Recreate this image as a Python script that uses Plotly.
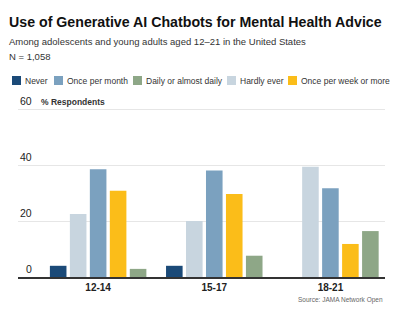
import plotly.graph_objects as go

categories = ["12-14", "15-17", "18-21"]
series_names = ["Never", "Hardly ever", "Once per month", "Once per week or more", "Daily or almost daily"]
never = [4.0, 4.0, None]
hardly_ever = [22.5, 20.0, 39.4]
once_month = [38.5, 38.0, 31.7]
once_week = [30.8, 29.6, 11.8]
daily = [2.9, 7.6, 16.4]
y_ticks = [0, 20, 40, 60]

values = [never, hardly_ever, once_month, once_week, daily]
colors = ["#1b4a78", "#c8d5df", "#7ba1bf", "#fbbd19", "#8ea787"]

# legend layout (order shown in the legend and x position of each swatch, px)
legend_order = ["Never", "Once per month", "Daily or almost daily", "Hardly ever", "Once per week or more"]
legend_x = [12, 54, 133, 227, 288]

W, H = 400, 318
YMAX = 65
PXPU = 2.8  # pixels per y unit
ML, MR, MB = 18, 15, 41
MT = int(round(H - MB - YMAX * PXPU))
PW, PH = W - ML - MR, H - MT - MB


def px(x):
    return (x - ML) / PW


def py(y):
    return (H - MB - y) / PH


fig = go.Figure()
for name, vals, col in zip(series_names, values, colors):
    fig.add_trace(go.Bar(x=categories, y=vals, name=name, marker_color=col,
                         marker_line_width=0, showlegend=False))

font = "Liberation Sans, Arial, sans-serif"
fig.update_layout(
    width=W, height=H,
    margin=dict(l=ML, r=MR, t=MT, b=MB, autoexpand=False),
    paper_bgcolor="white", plot_bgcolor="white",
    barmode="group", bargap=0.14, bargroupgap=0.17,
    font=dict(family=font, color="#222"),
    showlegend=False,
    xaxis=dict(range=[-0.69, 2.47], showline=True, linecolor="#333", linewidth=1.5,
               ticks="", tickfont=dict(size=10, color="#222", weight="bold"), showgrid=False,
               ticklabelstandoff=0),
    yaxis=dict(range=[0, YMAX], tickvals=y_ticks, showgrid=True, gridcolor="#e6e6e6",
               gridwidth=1, zeroline=False, showticklabels=False),
)

# y tick labels sitting above their gridlines
for t in y_ticks:
    fig.add_annotation(text=str(t), xref="paper", yref="y", x=px(34), y=t, yshift=8.5,
                       xanchor="right", yanchor="middle", showarrow=False,
                       font=dict(size=10.5, color="#222"))

# custom compact legend
for name, lx in zip(legend_order, legend_x):
    col = colors[series_names.index(name)]
    fig.add_shape(type="rect", xref="paper", yref="paper",
                  x0=px(lx), x1=px(lx + 9), y0=py(76), y1=py(85),
                  fillcolor=col, line_width=0)
    fig.add_annotation(text=name, xref="paper", yref="paper", x=px(lx + 10.5), y=py(80.5),
                       xanchor="left", yanchor="middle", showarrow=False,
                       font=dict(size=8.5, color="#333"))

fig.add_annotation(text="<b>Use of Generative AI Chatbots for Mental Health Advice</b>",
                   xref="paper", yref="paper", x=px(7), y=py(22),
                   xanchor="left", yanchor="middle", showarrow=False,
                   font=dict(size=14.2, color="#111"))
fig.add_annotation(text="Among adolescents and young adults aged 12–21 in the United States",
                   xref="paper", yref="paper", x=px(7), y=py(42),
                   xanchor="left", yanchor="middle", showarrow=False,
                   font=dict(size=9.5, color="#333"))
fig.add_annotation(text="N = 1,058",
                   xref="paper", yref="paper", x=px(7), y=py(56),
                   xanchor="left", yanchor="middle", showarrow=False,
                   font=dict(size=9.5, color="#333"))
fig.add_annotation(text="<b>% Respondents</b>",
                   xref="paper", yref="paper", x=px(39), y=py(102),
                   xanchor="left", yanchor="middle", showarrow=False,
                   font=dict(size=8.5, color="#333"))
fig.add_annotation(text="Source: JAMA Network Open",
                   xref="paper", yref="paper", x=px(385), y=py(300),
                   xanchor="right", yanchor="middle", showarrow=False,
                   font=dict(size=6.5, color="#666"))

fig.write_html("out.html")
